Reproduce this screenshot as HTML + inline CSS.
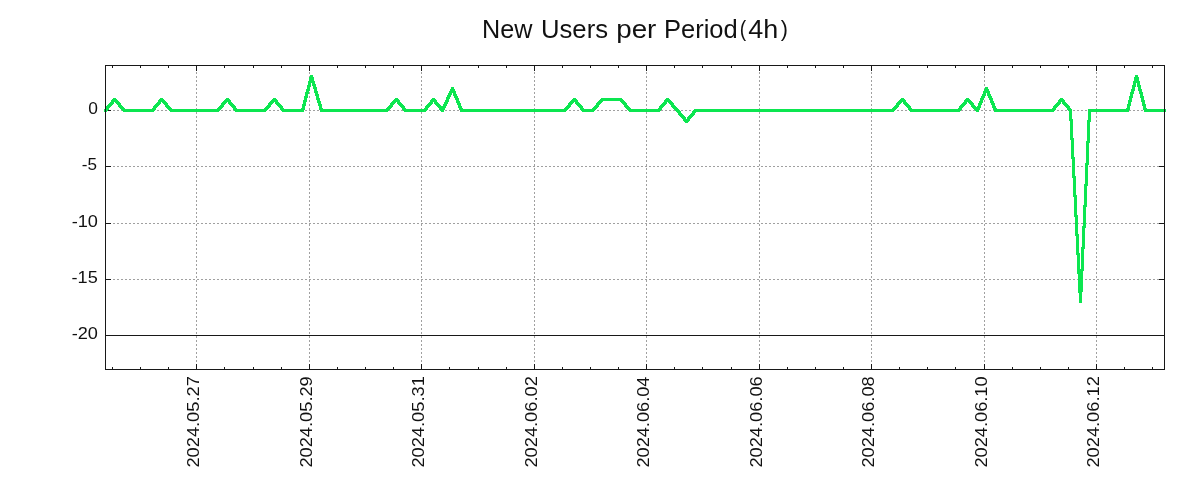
<!DOCTYPE html><html><head><meta charset="utf-8"><style>html,body{margin:0;padding:0;background:#fff;width:1200px;height:500px;overflow:hidden}svg{display:block;will-change:transform}text{font-family:"Liberation Sans",sans-serif;fill:#111}</style></head><body>
<svg width="1200" height="500" viewBox="0 0 1200 500">
<path d="M105 110.5H1165M105 166.5H1165M105 223.5H1165M105 279.5H1165M196.5 370V65M309.5 370V65M421.5 370V65M534.5 370V65M646.5 370V65M759.5 370V65M871.5 370V65M984.5 370V65M1096.5 370V65" stroke="#a0a0a0" stroke-width="1" stroke-dasharray="2 2" fill="none" shape-rendering="crispEdges"/>
<path d="M105 335.5H1164" stroke="#181818" stroke-width="1" shape-rendering="crispEdges"/>
<path d="M106 110.5h5M1164 110.5h-5M106 166.5h5M1164 166.5h-5M106 223.5h5M1164 223.5h-5M106 279.5h5M1164 279.5h-5M106 335.5h5M1164 335.5h-5M196.5 66v5M196.5 369v-5M309.5 66v5M309.5 369v-5M421.5 66v5M421.5 369v-5M534.5 66v5M534.5 369v-5M646.5 66v5M646.5 369v-5M759.5 66v5M759.5 369v-5M871.5 66v5M871.5 369v-5M984.5 66v5M984.5 369v-5M1096.5 66v5M1096.5 369v-5M112.5 66v2M112.5 369v-2M140.5 66v2M140.5 369v-2M168.5 66v2M168.5 369v-2M224.5 66v2M224.5 369v-2M253.5 66v2M253.5 369v-2M281.5 66v2M281.5 369v-2M337.5 66v2M337.5 369v-2M365.5 66v2M365.5 369v-2M393.5 66v2M393.5 369v-2M449.5 66v2M449.5 369v-2M478.5 66v2M478.5 369v-2M506.5 66v2M506.5 369v-2M562.5 66v2M562.5 369v-2M590.5 66v2M590.5 369v-2M618.5 66v2M618.5 369v-2M674.5 66v2M674.5 369v-2M702.5 66v2M702.5 369v-2M731.5 66v2M731.5 369v-2M787.5 66v2M787.5 369v-2M815.5 66v2M815.5 369v-2M843.5 66v2M843.5 369v-2M899.5 66v2M899.5 369v-2M927.5 66v2M927.5 369v-2M955.5 66v2M955.5 369v-2M1012.5 66v2M1012.5 369v-2M1040.5 66v2M1040.5 369v-2M1068.5 66v2M1068.5 369v-2M1124.5 66v2M1124.5 369v-2M1152.5 66v2M1152.5 369v-2" stroke="#181818" stroke-width="1" fill="none" shape-rendering="crispEdges"/>
<path d="M104 109h5v1h-5zM104 110h4v1h-4zM104 111h3v1h-3zM105 108h4v1h-4zM106 106h5v1h-5zM106 107h4v1h-4zM107 105h5v1h-5zM108 104h5v1h-5zM109 103h5v1h-5zM110 102h4v1h-4zM111 100h7v1h-7zM111 101h8v1h-8zM112 99h5v1h-5zM113 98h3v1h-3zM115 102h5v1h-5zM116 103h5v1h-5zM117 104h4v1h-4zM118 105h4v1h-4zM118 106h5v1h-5zM119 107h5v1h-5zM120 108h5v1h-5zM121 109h35v1h-35zM122 110h33v1h-33zM123 111h31v1h-31zM152 108h4v1h-4zM153 106h5v1h-5zM153 107h4v1h-4zM154 105h5v1h-5zM155 104h5v1h-5zM156 103h5v1h-5zM157 102h4v1h-4zM158 100h7v1h-7zM158 101h8v1h-8zM159 99h5v1h-5zM160 98h3v1h-3zM162 102h5v1h-5zM163 103h5v1h-5zM164 104h4v1h-4zM165 105h4v1h-4zM165 106h5v1h-5zM166 107h5v1h-5zM167 108h5v1h-5zM168 109h53v1h-53zM169 110h51v1h-51zM170 111h49v1h-49zM217 108h5v1h-5zM218 107h5v1h-5zM219 106h5v1h-5zM220 105h4v1h-4zM221 103h5v1h-5zM221 104h4v1h-4zM222 102h5v1h-5zM223 101h8v1h-8zM224 100h7v1h-7zM225 99h5v1h-5zM226 98h3v1h-3zM228 102h4v1h-4zM228 103h5v1h-5zM229 104h5v1h-5zM230 105h5v1h-5zM231 106h5v1h-5zM232 107h4v1h-4zM233 108h4v1h-4zM233 109h35v1h-35zM234 110h33v1h-33zM235 111h31v1h-31zM264 108h5v1h-5zM265 107h5v1h-5zM266 106h5v1h-5zM267 105h4v1h-4zM268 103h5v1h-5zM268 104h4v1h-4zM269 102h5v1h-5zM270 101h8v1h-8zM271 100h7v1h-7zM272 99h5v1h-5zM273 98h3v1h-3zM275 102h4v1h-4zM275 103h5v1h-5zM276 104h5v1h-5zM277 105h5v1h-5zM278 106h5v1h-5zM279 107h4v1h-4zM280 108h4v1h-4zM280 109h25v1h-25zM281 110h23v1h-23zM282 111h22v1h-22zM301 108h4v1h-4zM302 104h4v2h-4zM302 106h3v2h-3zM303 100h4v2h-4zM303 102h3v2h-3zM304 96h4v2h-4zM304 98h3v2h-3zM305 92h4v2h-4zM305 94h3v2h-3zM306 89h4v2h-4zM306 91h3v1h-3zM307 85h4v2h-4zM307 87h3v2h-3zM308 81h7v2h-7zM308 83h3v2h-3zM309 77h5v4h-5zM310 75h3v2h-3zM312 83h3v1h-3zM312 84h4v2h-4zM313 86h3v1h-3zM313 87h4v2h-4zM314 89h3v2h-3zM314 91h4v2h-4zM315 93h3v1h-3zM315 94h4v2h-4zM316 96h3v2h-3zM316 98h4v2h-4zM317 100h3v1h-3zM317 101h4v2h-4zM318 103h3v1h-3zM318 104h4v2h-4zM319 106h3v2h-3zM319 108h4v1h-4zM319 109h71v1h-71zM320 110h69v1h-69zM320 111h68v1h-68zM386 108h5v1h-5zM387 107h5v1h-5zM388 106h5v1h-5zM389 105h4v1h-4zM390 103h5v1h-5zM390 104h4v1h-4zM391 102h5v1h-5zM392 101h8v1h-8zM393 100h7v1h-7zM394 99h5v1h-5zM395 98h3v1h-3zM397 102h4v1h-4zM397 103h5v1h-5zM398 104h5v1h-5zM399 105h5v1h-5zM400 106h5v1h-5zM401 107h4v1h-4zM402 108h4v1h-4zM402 109h26v1h-26zM403 110h24v1h-24zM404 111h22v1h-22zM424 108h4v1h-4zM425 106h5v1h-5zM425 107h4v1h-4zM426 105h5v1h-5zM427 104h5v1h-5zM428 103h5v1h-5zM429 102h4v1h-4zM430 100h7v2h-7zM431 99h5v1h-5zM432 98h3v1h-3zM434 102h4v1h-4zM434 103h5v1h-5zM435 104h5v1h-5zM436 105h5v1h-5zM437 106h9v1h-9zM438 107h8v1h-8zM439 108h6v2h-6zM440 110h4v1h-4zM441 111h3v1h-3zM443 104h4v2h-4zM444 102h4v2h-4zM445 100h4v2h-4zM446 97h4v2h-4zM446 99h3v1h-3zM447 95h4v2h-4zM448 93h4v2h-4zM449 91h7v2h-7zM450 89h5v2h-5zM451 87h3v2h-3zM453 93h3v1h-3zM453 94h4v2h-4zM454 96h4v2h-4zM455 98h4v2h-4zM456 100h3v1h-3zM456 101h4v2h-4zM457 103h4v2h-4zM458 105h3v1h-3zM458 106h4v2h-4zM459 108h4v1h-4zM459 109h109v1h-109zM460 110h107v1h-107zM460 111h106v1h-106zM564 108h5v1h-5zM565 107h5v1h-5zM566 106h5v1h-5zM567 105h4v1h-4zM568 103h5v1h-5zM568 104h4v1h-4zM569 102h5v1h-5zM570 101h8v1h-8zM571 100h7v1h-7zM572 99h5v1h-5zM573 98h3v1h-3zM575 102h4v1h-4zM575 103h5v1h-5zM576 104h5v1h-5zM577 105h5v1h-5zM578 106h5v1h-5zM579 107h4v1h-4zM580 108h4v1h-4zM580 109h16v1h-16zM581 110h14v1h-14zM582 111h12v1h-12zM592 108h5v1h-5zM593 107h5v1h-5zM594 106h5v1h-5zM595 105h4v1h-4zM596 103h5v1h-5zM596 104h4v1h-4zM597 102h5v1h-5zM598 101h5v1h-5zM599 100h25v1h-25zM600 99h23v1h-23zM601 98h21v1h-21zM620 101h5v1h-5zM621 102h5v1h-5zM622 103h5v1h-5zM623 104h4v1h-4zM624 105h4v1h-4zM624 106h5v1h-5zM625 107h5v1h-5zM626 108h5v1h-5zM627 109h35v1h-35zM628 110h33v1h-33zM629 111h31v1h-31zM658 108h4v1h-4zM659 106h5v1h-5zM659 107h4v1h-4zM660 105h5v1h-5zM661 104h5v1h-5zM662 103h5v1h-5zM663 102h4v1h-4zM664 100h7v1h-7zM664 101h8v1h-8zM665 99h5v1h-5zM666 98h3v1h-3zM668 102h5v1h-5zM669 103h5v1h-5zM670 104h4v1h-4zM671 105h4v1h-4zM671 106h5v1h-5zM672 107h5v1h-5zM673 108h5v1h-5zM674 109h5v1h-5zM675 110h5v1h-5zM676 111h5v1h-5zM677 112h4v1h-4zM678 113h4v1h-4zM678 114h5v1h-5zM679 115h5v1h-5zM680 116h5v1h-5zM681 117h5v1h-5zM682 118h4v1h-4zM683 119h7v2h-7zM684 121h5v1h-5zM685 122h3v1h-3zM687 117h5v1h-5zM687 118h4v1h-4zM688 116h5v1h-5zM689 115h5v1h-5zM690 114h5v1h-5zM691 113h4v1h-4zM692 111h202v1h-202zM692 112h4v1h-4zM693 110h202v1h-202zM694 109h202v1h-202zM892 108h5v1h-5zM893 107h5v1h-5zM894 106h5v1h-5zM895 105h4v1h-4zM896 103h5v1h-5zM896 104h4v1h-4zM897 102h5v1h-5zM898 101h8v1h-8zM899 100h7v1h-7zM900 99h5v1h-5zM901 98h3v1h-3zM903 102h4v1h-4zM903 103h5v1h-5zM904 104h5v1h-5zM905 105h5v1h-5zM906 106h5v1h-5zM907 107h4v1h-4zM908 108h4v1h-4zM908 109h54v1h-54zM909 110h52v1h-52zM910 111h50v1h-50zM958 108h4v1h-4zM959 106h5v1h-5zM959 107h4v1h-4zM960 105h5v1h-5zM961 104h5v1h-5zM962 103h5v1h-5zM963 102h4v1h-4zM964 100h7v1h-7zM964 101h8v1h-8zM965 99h5v1h-5zM966 98h3v1h-3zM968 102h5v1h-5zM969 103h5v1h-5zM970 104h4v1h-4zM971 105h4v1h-4zM971 106h5v1h-5zM972 107h9v1h-9zM973 108h7v1h-7zM974 109h6v1h-6zM975 110h4v1h-4zM976 111h3v1h-3zM977 106h4v1h-4zM978 103h4v2h-4zM978 105h3v1h-3zM979 101h4v2h-4zM980 98h4v2h-4zM980 100h3v1h-3zM981 96h4v2h-4zM982 94h4v2h-4zM983 91h7v2h-7zM983 93h3v1h-3zM984 89h5v2h-5zM985 87h3v2h-3zM987 93h3v1h-3zM987 94h4v2h-4zM988 96h4v2h-4zM989 98h4v2h-4zM990 100h3v1h-3zM990 101h4v2h-4zM991 103h4v2h-4zM992 105h3v1h-3zM992 106h4v2h-4zM993 108h4v1h-4zM993 109h63v1h-63zM994 110h61v1h-61zM994 111h60v1h-60zM1052 108h4v1h-4zM1053 106h5v1h-5zM1053 107h4v1h-4zM1054 105h5v1h-5zM1055 104h5v1h-5zM1056 103h5v1h-5zM1057 102h4v1h-4zM1058 100h7v2h-7zM1059 99h5v1h-5zM1060 98h3v1h-3zM1062 102h4v1h-4zM1062 103h5v1h-5zM1063 104h5v1h-5zM1064 105h5v1h-5zM1065 106h5v1h-5zM1066 107h4v1h-4zM1067 108h4v1h-4zM1067 109h5v1h-5zM1068 110h4v1h-4zM1069 111h3v8h-3zM1069 119h4v2h-4zM1070 121h3v17h-3zM1070 138h4v2h-4zM1071 140h3v17h-3zM1071 157h4v2h-4zM1072 159h3v17h-3zM1072 176h4v2h-4zM1073 178h3v17h-3zM1073 195h4v2h-4zM1074 197h3v18h-3zM1074 215h4v2h-4zM1075 217h3v17h-3zM1075 234h4v2h-4zM1076 236h3v17h-3zM1076 253h4v2h-4zM1077 255h3v14h-3zM1077 269h7v2h-7zM1077 271h6v3h-6zM1078 274h5v18h-5zM1078 292h4v1h-4zM1079 293h3v10h-3zM1081 247h4v2h-4zM1081 249h3v20h-3zM1082 226h4v2h-4zM1082 228h3v19h-3zM1083 205h4v2h-4zM1083 207h3v19h-3zM1084 184h4v2h-4zM1084 186h3v19h-3zM1085 163h4v2h-4zM1085 165h3v19h-3zM1086 141h4v2h-4zM1086 143h3v20h-3zM1087 120h4v2h-4zM1087 122h3v19h-3zM1088 109h42v1h-42zM1088 110h41v2h-41zM1088 112h3v8h-3zM1126 108h4v1h-4zM1127 104h4v2h-4zM1127 106h3v2h-3zM1128 100h4v2h-4zM1128 102h3v2h-3zM1129 96h4v2h-4zM1129 98h3v2h-3zM1130 92h4v2h-4zM1130 94h3v2h-3zM1131 89h4v2h-4zM1131 91h3v1h-3zM1132 85h4v2h-4zM1132 87h3v2h-3zM1133 81h7v2h-7zM1133 83h3v2h-3zM1134 77h5v4h-5zM1135 75h3v2h-3zM1137 83h3v2h-3zM1137 85h4v2h-4zM1138 87h3v2h-3zM1138 89h4v2h-4zM1139 91h3v1h-3zM1139 92h4v2h-4zM1140 94h3v2h-3zM1140 96h4v2h-4zM1141 98h3v2h-3zM1141 100h4v2h-4zM1142 102h3v2h-3zM1142 104h4v2h-4zM1143 106h3v2h-3zM1143 108h4v1h-4zM1143 109h23v1h-23zM1144 110h22v2h-22z" fill="#0ce650" shape-rendering="crispEdges"/>
<rect x="105.5" y="65.5" width="1059" height="304" fill="none" stroke="#181818" stroke-width="1" shape-rendering="crispEdges"/>
<text x="88.32" y="114" font-size="16" textLength="9.66" lengthAdjust="spacingAndGlyphs">0</text>
<text x="81.74" y="170" font-size="16" textLength="15.18" lengthAdjust="spacingAndGlyphs">-5</text>
<text x="71.69" y="227" font-size="16" textLength="26.21" lengthAdjust="spacingAndGlyphs">-10</text>
<text x="71.60" y="283" font-size="16" textLength="26.16" lengthAdjust="spacingAndGlyphs">-15</text>
<text x="71.69" y="339" font-size="16" textLength="26.21" lengthAdjust="spacingAndGlyphs">-20</text>
<text transform="translate(199,0) rotate(-90)" x="-467.62" y="0" font-size="16" textLength="91.44" lengthAdjust="spacingAndGlyphs">2024.05.27</text>
<text transform="translate(312,0) rotate(-90)" x="-467.62" y="0" font-size="16" textLength="91.38" lengthAdjust="spacingAndGlyphs">2024.05.29</text>
<text transform="translate(424,0) rotate(-90)" x="-467.62" y="0" font-size="16" textLength="91.41" lengthAdjust="spacingAndGlyphs">2024.05.31</text>
<text transform="translate(537,0) rotate(-90)" x="-467.62" y="0" font-size="16" textLength="91.44" lengthAdjust="spacingAndGlyphs">2024.06.02</text>
<text transform="translate(649,0) rotate(-90)" x="-467.61" y="0" font-size="16" textLength="91.05" lengthAdjust="spacingAndGlyphs">2024.06.04</text>
<text transform="translate(762,0) rotate(-90)" x="-467.62" y="0" font-size="16" textLength="91.32" lengthAdjust="spacingAndGlyphs">2024.06.06</text>
<text transform="translate(874,0) rotate(-90)" x="-467.62" y="0" font-size="16" textLength="91.31" lengthAdjust="spacingAndGlyphs">2024.06.08</text>
<text transform="translate(987,0) rotate(-90)" x="-467.62" y="0" font-size="16" textLength="91.23" lengthAdjust="spacingAndGlyphs">2024.06.10</text>
<text transform="translate(1099,0) rotate(-90)" x="-467.62" y="0" font-size="16" textLength="91.44" lengthAdjust="spacingAndGlyphs">2024.06.12</text>
<text x="482.03" y="38" font-size="25.7" textLength="50.41" lengthAdjust="spacingAndGlyphs">New</text>
<text x="541.02" y="38" font-size="25.7" textLength="67.01" lengthAdjust="spacingAndGlyphs">Users</text>
<text x="616.21" y="38" font-size="25.7" textLength="40.15" lengthAdjust="spacingAndGlyphs">per</text>
<text x="664.01" y="38" font-size="25.7" textLength="73.74" lengthAdjust="spacingAndGlyphs">Period</text>
<text x="748.18" y="38" font-size="25.7" textLength="29.97" lengthAdjust="spacingAndGlyphs">4h</text>
<text x="739.81" y="36.1" font-size="22" textLength="6.41" lengthAdjust="spacingAndGlyphs">(</text>
<text x="780.77" y="36.1" font-size="22" textLength="7.16" lengthAdjust="spacingAndGlyphs">)</text>
</svg></body></html>
